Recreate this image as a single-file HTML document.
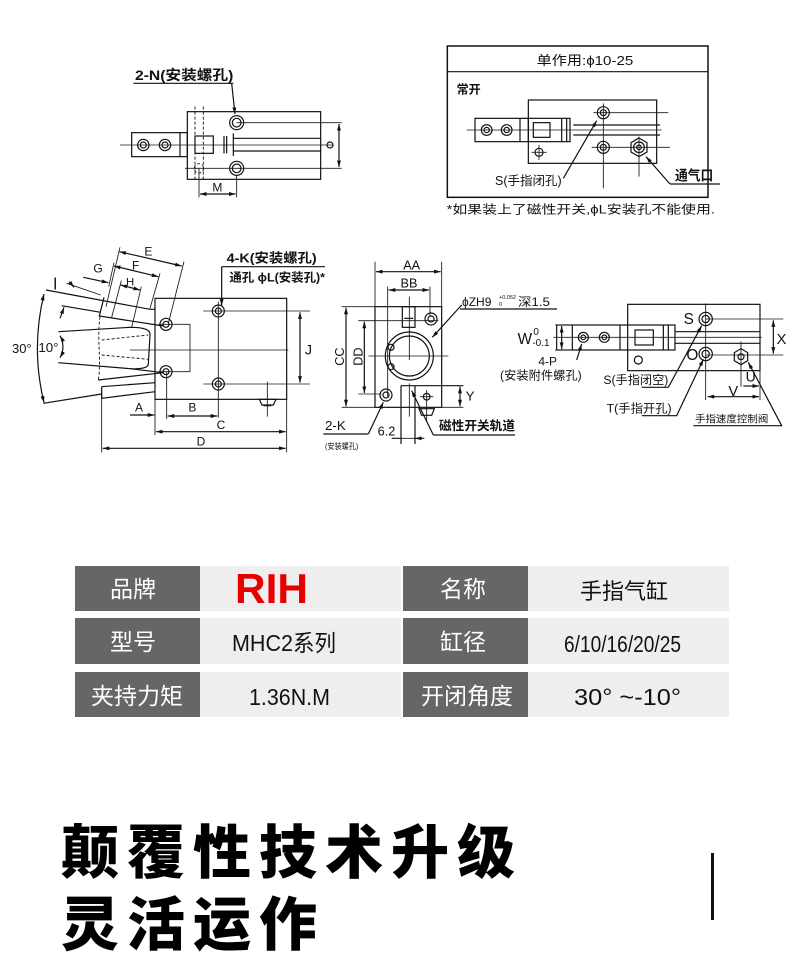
<!DOCTYPE html>
<html><head><meta charset="utf-8"><style>
html,body{margin:0;padding:0;background:#fff;}
svg{display:block;}
.l{stroke:#111;stroke-width:3.6;fill:none;}
.t{stroke:#1a1a1a;stroke-width:2.6;fill:none;}
.d{stroke:#1a1a1a;stroke-width:2.8;fill:none;stroke-dasharray:9 6;}
text{font-family:"Liberation Sans","Noto Sans CJK SC",sans-serif;fill:#111;}
.w{fill:#fff;font-family:"Liberation Sans","Noto Sans CJK SC",sans-serif;}
.n{font-family:"Liberation Sans Narrow","Liberation Sans","Noto Sans CJK SC",sans-serif;fill:#111;}
</style></head><body>
<svg width="800" height="970" viewBox="0 0 800 970" xmlns="http://www.w3.org/2000/svg">
<defs>
<marker id="a" viewBox="0 0 10 6" refX="10" refY="3" markerWidth="5.5" markerHeight="3.3" orient="auto-start-reverse" markerUnits="strokeWidth"><path d="M0,0L10,3L0,6z" fill="#111"/></marker>
</defs>
<rect width="800" height="970" fill="#fff"/>

<!-- TOP LEFT -->
<g transform="translate(100,50) scale(0.33333)">
<text x="105" y="90" font-size="42" font-weight="bold" textLength="295" lengthAdjust="spacingAndGlyphs">2-N(安装螺孔)</text>
<path class="l" d="M100,100H400"/>
<path class="l" d="M395,100L405,192" marker-end="url(#a)"/>
<rect class="l" x="262" y="185" width="400" height="203"/>
<rect class="l" x="95" y="248" width="167" height="72"/>
<path class="l" d="M240,248V320"/>
<circle class="l" cx="130" cy="285" r="17"/><circle class="l" cx="130" cy="285" r="9"/>
<circle class="l" cx="195" cy="285" r="17"/><circle class="l" cx="195" cy="285" r="9"/>
<path class="t" d="M60,285H700"/>
<circle class="l" cx="690" cy="285" r="9" fill="#fff"/>
<circle class="l" cx="410" cy="218" r="21"/><circle class="l" cx="410" cy="218" r="13"/>
<circle class="l" cx="410" cy="355" r="21"/><circle class="l" cx="410" cy="355" r="13"/>
<circle class="d" cx="297" cy="355" r="14"/>
<path class="d" d="M285,170V395M310,170V395"/>
<path class="t" d="M410,218H725M255,355H725"/>
<path class="l" d="M717,222V351" marker-start="url(#a)" marker-end="url(#a)"/>
<path class="l" d="M400,265H662M400,303H662"/>
<rect class="l" x="285" y="258" width="55" height="52"/>
<path class="l" d="M372,258V310M380,258V310M400,250V318"/>
<path class="t" d="M297,355V442M410,376V442"/>
<path class="l" d="M300,432H407" marker-start="url(#a)" marker-end="url(#a)"/>
<text x="337" y="425" font-size="36">M</text>
</g>

<!-- TOP RIGHT BOX -->
<g transform="translate(440,40) scale(0.33333)">
<rect x="22" y="18" width="782" height="454" fill="none" stroke="#111" stroke-width="4.5"/>
<path class="l" d="M22,95H804"/>
<text x="290" y="75" font-size="40" textLength="290" lengthAdjust="spacingAndGlyphs">单作用:ϕ10-25</text>
<text x="50" y="160" font-size="36" font-weight="bold" textLength="72" lengthAdjust="spacingAndGlyphs">常开</text>
<rect class="l" x="265" y="180" width="385" height="190"/>
<rect class="l" x="105" y="235" width="285" height="70"/>
<path class="l" d="M240,235V305M265,235V305"/>
<circle class="l" cx="140" cy="270" r="16"/><circle class="l" cx="140" cy="270" r="8"/>
<circle class="l" cx="200" cy="270" r="16"/><circle class="l" cx="200" cy="270" r="8"/>
<path class="t" d="M80,270H665"/>
<rect class="l" x="280" y="248" width="50" height="44"/>
<path class="l" d="M365,235V305M380,235V305"/>
<path class="l" d="M400,255H660M400,285H660"/>
<circle class="l" cx="490" cy="218" r="18"/><circle class="l" cx="490" cy="218" r="9"/>
<path class="t" d="M460,218H685M490,190V445"/>
<circle class="l" cx="490" cy="322" r="18"/><circle class="l" cx="490" cy="322" r="9"/>
<path class="t" d="M455,322H690"/>
<polygon class="l" points="597,294 621,308 621,336 597,350 573,336 573,308"/>
<circle class="l" cx="597" cy="322" r="16"/><circle class="l" cx="597" cy="322" r="7"/>
<path class="t" d="M597,290V410"/>
<circle class="l" cx="297" cy="337" r="12"/><path class="t" d="M275,337H320M297,315V360"/>
<text x="165" y="435" font-size="38" textLength="200" lengthAdjust="spacingAndGlyphs">S(手指闭孔)</text>
<path class="l" d="M370,415L470,242" marker-end="url(#a)"/>
<text x="705" y="422" font-size="42" font-weight="bold" textLength="115" lengthAdjust="spacingAndGlyphs">通气口</text>
<path class="l" d="M690,432H840"/>
<path class="l" d="M690,432L618,350" marker-end="url(#a)"/>
<text x="20" y="520" font-size="36" textLength="805" lengthAdjust="spacingAndGlyphs">*如果装上了磁性开关,ϕL安装孔不能使用.</text>
</g>

<!-- MIDDLE LEFT BODY -->
<g transform="translate(30,235) scale(0.33333)">
<rect class="l" x="375" y="190" width="395" height="303"/>
<circle class="l" cx="408" cy="268" r="18"/><circle class="l" cx="408" cy="268" r="9"/>
<circle class="l" cx="408" cy="410" r="18"/><circle class="l" cx="408" cy="410" r="9"/>
<circle class="l" cx="565" cy="228" r="18"/><circle class="l" cx="565" cy="228" r="9"/>
<circle class="l" cx="565" cy="447" r="18"/><circle class="l" cx="565" cy="447" r="9"/>
<path class="t" d="M520,228H840M520,447H840M565,200V548M300,345H775"/>
<path class="t" d="M385,268H480V410H385"/>
<path class="l" d="M810,232V443" marker-start="url(#a)" marker-end="url(#a)"/>
<text x="825" y="358" font-size="42">J</text>
<path class="t" d="M712,440V545"/>
<path class="l" d="M688,493H738L730,510H696Z"/>
<path class="l" d="M700,512H724"/>
<path class="t" d="M215,460V652M770,493V652M375,493V600M410,410V552"/>
<path class="l" d="M300,540H373" marker-end="url(#a)"/>
<text x="315" y="530" font-size="36">A</text>
<path class="l" d="M413,543H562" marker-start="url(#a)" marker-end="url(#a)"/>
<text x="475" y="530" font-size="36">B</text>
<path class="l" d="M378,590H767" marker-start="url(#a)" marker-end="url(#a)"/>
<text x="560" y="582" font-size="36">C</text>
<path class="l" d="M218,640H767" marker-start="url(#a)" marker-end="url(#a)"/>
<text x="500" y="632" font-size="36">D</text>
<text x="590" y="82" font-size="40" font-weight="bold" textLength="270" lengthAdjust="spacingAndGlyphs">4-K(安装螺孔)</text>
<path class="l" d="M575,95H885"/>
<text x="598" y="140" font-size="36" font-weight="bold" textLength="287" lengthAdjust="spacingAndGlyphs">通孔 ϕL(安装孔)*</text>
<path class="l" d="M575,95V212" marker-end="url(#a)"/>
</g>

<!-- FINGERS -->
<g transform="translate(30,240) scale(0.33333)">
<path class="l" d="M48,150L360,208H375"/>
<path class="l" d="M95,197L212,217"/>
<path class="l" d="M222,172L208,228L400,258"/>
<path class="l" d="M85,275L300,262C340,262 362,268 360,285L355,372C355,384 330,388 300,386L85,368"/>
<path class="l" d="M300,386L400,398"/>
<path class="d" d="M215,300L355,285M215,345L355,358"/>
<path class="d" d="M210,230C200,300 215,360 205,420"/>
<path class="l" d="M205,420L400,398"/>
<path class="l" d="M215,440L375,428M215,440V475L375,455"/>
<path class="l" d="M40,490L215,462"/>
<path class="l" d="M42,162A690,690 0 0 0 42,488" marker-start="url(#a)" marker-end="url(#a)"/>
<path class="l" d="M90,287A66,66 0 0 1 90,353" marker-start="url(#a)" marker-end="url(#a)"/>
<text x="25" y="336" font-size="40">10°</text>
<path class="l" d="M268,35L455,78" marker-start="url(#a)" marker-end="url(#a)"/>
<path class="t" d="M270,22L228,200M462,65L415,250"/>
<text x="343" y="46" font-size="36">E</text>
<path class="l" d="M252,78L385,110" marker-start="url(#a)" marker-end="url(#a)"/>
<path class="t" d="M252,68L236,140M390,100L360,205"/>
<text x="306" y="88" font-size="36">F</text>
<path class="l" d="M160,112L235,128" marker-end="url(#a)"/>
<text x="190" y="97" font-size="36">G</text>
<path class="l" d="M272,135L330,150" marker-start="url(#a)" marker-end="url(#a)"/>
<path class="t" d="M274,122L245,232M334,140L305,262"/>
<text x="288" y="137" font-size="34">H</text>
<text x="70" y="148" font-size="50">l</text>
<path class="t" d="M110,130L212,165"/>
<path class="l" d="M118,125L132,142" marker-end="url(#a)"/>
<path class="l" d="M90,235L102,202" marker-end="url(#a)"/>
</g>
<text x="12" y="353" font-size="13">30°</text>

<!-- MIDDLE END VIEW -->
<g transform="translate(315,250) scale(0.33333)">
<rect class="l" x="180" y="170" width="200" height="302"/>
<path class="t" d="M180,35V170M380,35V170"/>
<path class="l" d="M183,65H377" marker-start="url(#a)" marker-end="url(#a)"/>
<text x="290" y="58" font-size="38" text-anchor="middle">AA</text>
<path class="t" d="M218,110V440M345,110V200"/>
<path class="l" d="M221,120H342" marker-start="url(#a)" marker-end="url(#a)"/>
<text x="282" y="112" font-size="38" text-anchor="middle">BB</text>
<circle class="l" cx="348" cy="207" r="18"/><circle class="l" cx="348" cy="207" r="9"/>
<circle class="l" cx="213" cy="435" r="18"/><circle class="l" cx="213" cy="435" r="9"/>
<circle class="l" cx="283" cy="318" r="72" stroke-width="4.5"/>
<circle class="l" cx="283" cy="318" r="60"/>
<circle class="l" cx="228" cy="292" r="9" fill="#fff"/>
<circle class="l" cx="228" cy="350" r="9" fill="#fff"/>
<rect class="l" x="262" y="170" width="38" height="62" fill="#fff"/>
<path class="l" d="M268,205H295"/>
<path class="t" d="M160,318H400M283,140V330"/>
<path class="l" d="M258,407H445M258,407V582M300,407V582"/>
<path class="t" d="M283,400V500"/>
<path class="l" d="M230,565H258M328,565H300" marker-end="url(#a)"/>
<path class="t" d="M258,565H300"/>
<text x="188" y="556" font-size="38">6.2</text>
<path class="t" d="M80,170H180M80,472H180"/>
<path class="l" d="M93,173V469" marker-start="url(#a)" marker-end="url(#a)"/>
<text transform="translate(87,320) rotate(-90)" font-size="38" text-anchor="middle">CC</text>
<path class="t" d="M130,212H370M130,432H200"/>
<path class="l" d="M148,215V429" marker-start="url(#a)" marker-end="url(#a)"/>
<text transform="translate(142,320) rotate(-90)" font-size="38" text-anchor="middle">DD</text>
<path class="t" d="M380,472H445"/>
<path class="l" d="M435,410V469" marker-start="url(#a)" marker-end="url(#a)"/>
<text x="452" y="452" font-size="40">Y</text>
<path class="t" d="M335,420V512M315,440H355"/>
<circle class="l" cx="335" cy="440" r="10"/>
<path class="l" d="M312,476H358L350,496H320Z"/>
<path class="l" d="M440,165L352,262" marker-end="url(#a)"/>
<text x="30" y="540" font-size="40">2-K</text>
<path class="l" d="M25,552H160"/>
<path class="l" d="M160,552L205,457" marker-end="url(#a)"/>
<text x="30" y="597" font-size="24" textLength="100" lengthAdjust="spacingAndGlyphs">(安装螺孔)</text>
<text x="372" y="540" font-size="38" font-weight="bold" textLength="228" lengthAdjust="spacingAndGlyphs">磁性开关轨道</text>
<path class="l" d="M355,555H600"/>
<path class="l" d="M355,555L290,422" marker-end="url(#a)"/>
</g>
<text x="462" y="306" font-size="12">ϕZH9</text>
<text x="499" y="299" font-size="5.5">+0.052</text>
<text x="499" y="306" font-size="5.5">0</text>
<text x="518" y="306" font-size="12" textLength="32" lengthAdjust="spacingAndGlyphs">深1.5</text>
<path d="M460,309H557" stroke="#111" stroke-width="1.2" fill="none"/>

<!-- RIGHT VIEW -->
<g transform="translate(495,280) scale(0.33333)">
<rect class="l" x="398" y="73" width="397" height="199"/>
<rect class="l" x="185" y="135" width="355" height="75"/>
<path class="l" d="M232,135V210M375,135V210"/>
<circle class="l" cx="265" cy="172" r="15"/><circle class="l" cx="265" cy="172" r="7"/>
<circle class="l" cx="328" cy="172" r="15"/><circle class="l" cx="328" cy="172" r="7"/>
<rect class="l" x="420" y="150" width="55" height="45"/>
<path class="l" d="M505,135V210M520,135V210"/>
<path class="l" d="M540,155H795M540,190H795"/>
<path class="t" d="M175,172H800"/>
<circle class="l" cx="632" cy="117" r="20"/><circle class="l" cx="632" cy="117" r="11"/>
<circle class="l" cx="632" cy="222" r="20"/><circle class="l" cx="632" cy="222" r="11"/>
<polygon class="l" points="738,206 758,218 758,242 738,254 718,242 718,218"/>
<circle class="l" cx="738" cy="230" r="9"/>
<circle class="l" cx="430" cy="240" r="12"/>
<path class="t" d="M632,117H865M632,225H865M632,70V360M738,185V320M795,272V360"/>
<path class="l" d="M835,121V221" marker-start="url(#a)" marker-end="url(#a)"/>
<text x="845" y="192" font-size="44">X</text>
<path class="l" d="M638,350H792" marker-start="url(#a)" marker-end="url(#a)"/>
<text x="700" y="348" font-size="44">V</text>
<path class="l" d="M745,318H792" marker-end="url(#a)"/>
<text x="752" y="305" font-size="42">U</text>
<path class="t" d="M180,135H230M180,210H230"/>
<path class="l" d="M200,138V207" marker-start="url(#a)" marker-end="url(#a)"/>
<text x="68" y="192" font-size="46">W</text>
<text x="115" y="165" font-size="30">0</text>
<text x="112" y="198" font-size="30">-0.1</text>
<text x="130" y="257" font-size="36">4-P</text>
<text x="15" y="298" font-size="36" textLength="245" lengthAdjust="spacingAndGlyphs">(安装附件螺孔)</text>
<path class="l" d="M245,240L260,192" marker-end="url(#a)"/>
<text x="566" y="132" font-size="46">S</text>
<text x="574" y="240" font-size="46">O</text>
<text x="325" y="312" font-size="36" textLength="195" lengthAdjust="spacingAndGlyphs">S(手指闭空)</text>
<path class="l" d="M520,322L620,137" marker-end="url(#a)"/>
<path class="l" d="M440,322H520"/>
<text x="335" y="397" font-size="36" textLength="195" lengthAdjust="spacingAndGlyphs">T(手指开孔)</text>
<path class="l" d="M440,407H545L625,238" marker-end="url(#a)"/>
<text x="600" y="427" font-size="30" textLength="220" lengthAdjust="spacingAndGlyphs">手指速度控制阀</text>
<path class="l" d="M595,437H860L760,247" marker-end="url(#a)"/>
</g>

<!-- TABLE -->
<rect x="75" y="566" width="125" height="45" fill="#666"/>
<rect x="200" y="566" width="201" height="45" fill="#eee"/>
<rect x="403" y="566" width="125" height="45" fill="#666"/>
<rect x="528" y="566" width="201" height="45" fill="#eee"/>
<rect x="75" y="618" width="125" height="46" fill="#666"/>
<rect x="200" y="618" width="201" height="46" fill="#eee"/>
<rect x="403" y="618" width="125" height="46" fill="#666"/>
<rect x="528" y="618" width="201" height="46" fill="#eee"/>
<rect x="75" y="672" width="125" height="45" fill="#666"/>
<rect x="200" y="672" width="201" height="45" fill="#eee"/>
<rect x="403" y="672" width="125" height="45" fill="#666"/>
<rect x="528" y="672" width="201" height="45" fill="#eee"/>

<text class="w" x="133" y="597" font-size="23" text-anchor="middle">品牌</text>
<text x="235" y="603" font-size="42" font-weight="bold" style="fill:#e60000" textLength="73" lengthAdjust="spacingAndGlyphs">RIH</text>
<text class="w" x="463" y="597" font-size="23" text-anchor="middle">名称</text>
<text x="624" y="599" font-size="22" text-anchor="middle" style="fill:#111">手指气缸</text>

<text class="w" x="133" y="650" font-size="23" text-anchor="middle">型号</text>
<text class="n" x="232" y="651" font-size="23" textLength="104" lengthAdjust="spacingAndGlyphs">MHC2系列</text>
<text class="w" x="463" y="650" font-size="23" text-anchor="middle">缸径</text>
<text class="n" x="564" y="652" font-size="23" textLength="117" lengthAdjust="spacingAndGlyphs">6/10/16/20/25</text>

<text class="w" x="137" y="704" font-size="23" text-anchor="middle">夹持力矩</text>
<text class="n" x="249" y="705" font-size="23" textLength="81" lengthAdjust="spacingAndGlyphs">1.36N.M</text>
<text class="w" x="467" y="704" font-size="23" text-anchor="middle">开闭角度</text>
<text class="n" x="574" y="705" font-size="23" textLength="107" lengthAdjust="spacingAndGlyphs">30°  ~-10°</text>

<!-- BOTTOM HEADLINE -->
<text x="61" y="873" font-size="58" font-weight="900" letter-spacing="8" style="font-family:'Noto Sans CJK SC','WenQuanYi Zen Hei',sans-serif;fill:#000">颠覆性技术升级</text>
<text x="61" y="945" font-size="58" font-weight="900" letter-spacing="8" style="font-family:'Noto Sans CJK SC','WenQuanYi Zen Hei',sans-serif;fill:#000">灵活运作</text>
<rect x="711" y="853" width="3" height="67" fill="#111"/>
</svg>
</body></html>
